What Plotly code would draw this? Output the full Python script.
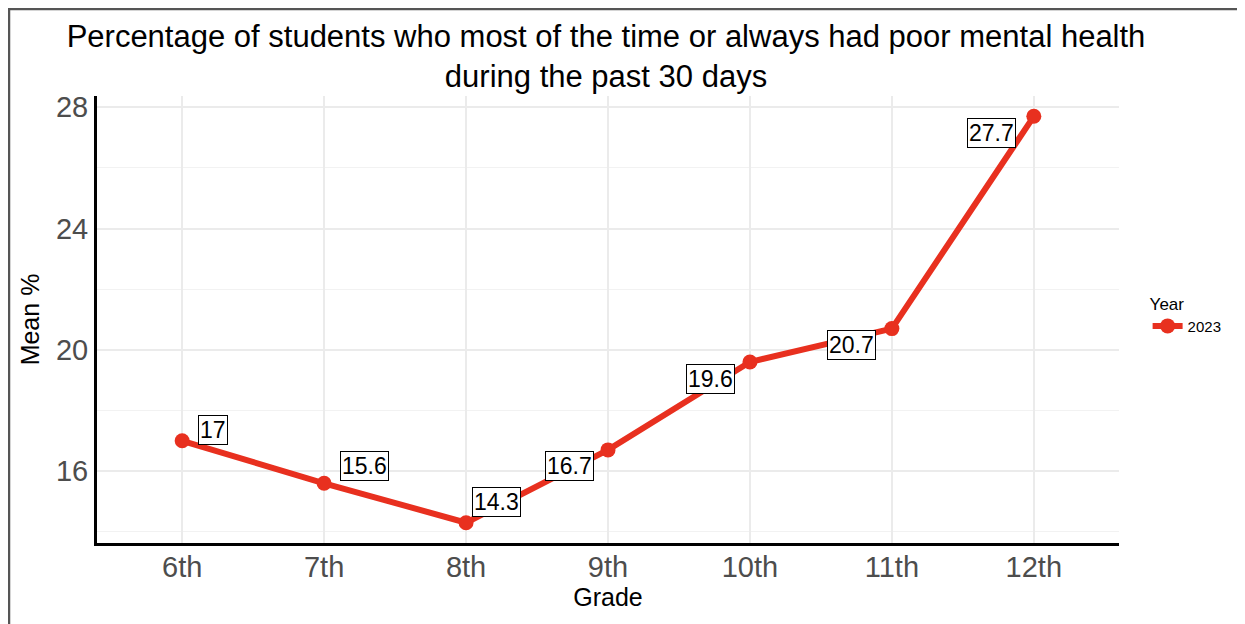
import plotly.graph_objects as go

grades = ["6th", "7th", "8th", "9th", "10th", "11th", "12th"]
mean_pct = [17.0, 15.6, 14.3, 16.7, 19.6, 20.7, 27.7]
label_text = ["17", "15.6", "14.3", "16.7", "19.6", "20.7", "27.7"]
year_name = "2023"
y_ticks = [16, 20, 24, 28]

# label offsets in pixels (repel-like placement)
label_dx = [31, 40, 30, -39, -39, -40, -42]
label_dy = [-11, -17, -21, 16, 17, 16, 17]

W, H = 1237, 616
ML, MR, MT, MB = 89, 126, 88, 81
red = "#E8301F"
FONT = "Liberation Sans, Arial"

fig = go.Figure()
fig.add_trace(go.Scatter(
    x=grades, y=mean_pct, mode="lines+markers", name=year_name,
    line=dict(color=red, width=6), marker=dict(color=red, size=15),
    hoverinfo="x+y",
))

for g, v, t, dx, dy in zip(grades, mean_pct, label_text, label_dx, label_dy):
    fig.add_annotation(
        x=g, y=v, text=t, showarrow=True, arrowcolor="rgba(0,0,0,0)", arrowwidth=0.1,
        ax=dx, ay=dy, font=dict(family=FONT, size=23, color="black"),
        bgcolor="white", bordercolor="black", borderwidth=1, borderpad=1,
    )

pw = W - ML - MR
ph = H - MT - MB
def px2x(px):
    return (px - ML) / pw
def py2y(py):
    return (H - MB - py) / ph

# outer frame lines (top and left)
fig.add_shape(type="line", xref="paper", yref="paper", x0=px2x(0), x1=px2x(W), y0=py2y(1), y1=py2y(1),
              line=dict(color="#555555", width=2.5))
fig.add_shape(type="line", xref="paper", yref="paper", x0=px2x(1), x1=px2x(1), y0=py2y(0), y1=py2y(H),
              line=dict(color="#555555", width=2.5))

fig.update_layout(
    width=W, height=H, autosize=False,
    margin=dict(l=ML, r=MR, t=MT, b=MB),
    paper_bgcolor="white", plot_bgcolor="white",
    font=dict(family=FONT, color="black"),
    title=dict(
        text="Percentage of students who most of the time or always had poor mental health<br>during the past 30 days",
        x=598 / W, xanchor="center", y=1 - 39 / H, yanchor="middle",
        font=dict(size=31, color="black"),
    ),
    showlegend=True,
    legend=dict(
        title=dict(text="Year", font=dict(size=17, color="black")),
        font=dict(size=15, color="black"),
        x=1.028, xanchor="left", y=0.51, yanchor="middle",
        bgcolor="rgba(0,0,0,0)", itemwidth=30,
    ),
)

fig.update_xaxes(
    type="category", range=[-0.6, 6.6],
    showline=True, linecolor="black", linewidth=3,
    showgrid=True, gridcolor="#EBEBEB", gridwidth=1.5,
    ticks="", tickfont=dict(size=29, color="#4D4D4D"), ticklabelstandoff=-4,
    title=dict(text="Grade", font=dict(size=25, color="black"), standoff=4),
    zeroline=False,
)
fig.update_yaxes(
    range=[13.63, 28.37],
    tickmode="array", tickvals=y_ticks, ticktext=[str(v) for v in y_ticks],
    showline=True, linecolor="black", linewidth=3,
    showgrid=True, gridcolor="#EBEBEB", gridwidth=1.5,
    minor=dict(showgrid=True, tickmode="linear", tick0=14, dtick=4, gridcolor="#F2F2F2", gridwidth=1),
    ticks="", tickfont=dict(size=29, color="#4D4D4D"),
    title=dict(text="Mean %", font=dict(size=25, color="black"), standoff=10),
    zeroline=False,
)

fig.write_html("out.html")
